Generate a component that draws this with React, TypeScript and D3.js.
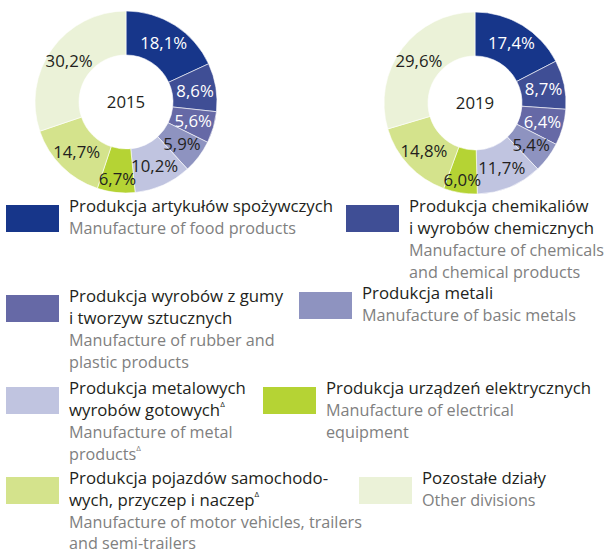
import React from "react";
import * as d3 from "d3";

const years = ["2015", "2019"];
const values2015 = [18.1, 8.6, 5.6, 5.9, 10.2, 6.7, 14.7, 30.2];
const values2019 = [17.4, 8.7, 6.4, 5.4, 11.7, 6.0, 14.8, 29.6];

const colors = ["#17368a", "#3f4e95", "#6669a6", "#8e93c0", "#c0c4e0", "#b5d334", "#d4e38c", "#ebf2d8"];
const labelColors = ["#fff", "#fff", "#fff", "#231f20", "#231f20", "#231f20", "#231f20", "#231f20"];

const polishLabels = [
  ["Produkcja artykułów spożywczych"],
  ["Produkcja chemikaliów", "i wyrobów chemicznych"],
  ["Produkcja wyrobów z gumy", "i tworzyw sztucznych"],
  ["Produkcja metali"],
  ["Produkcja metalowych", "wyrobów gotowychΔ"],
  ["Produkcja urządzeń elektrycznych"],
  ["Produkcja pojazdów samochodo-", "wych, przyczep i naczepΔ"],
  ["Pozostałe działy"],
];
const englishLabels = [
  ["Manufacture of food products"],
  ["Manufacture of chemicals", "and chemical products"],
  ["Manufacture of rubber and", "plastic products"],
  ["Manufacture of basic metals"],
  ["Manufacture of metal", "productsΔ"],
  ["Manufacture of electrical", "equipment"],
  ["Manufacture of motor vehicles, trailers", "and semi-trailers"],
  ["Other divisions"],
];

// legend swatch positions (layout)
const legendPos = [
  [6, 205], [346, 205],
  [6, 295], [299, 292],
  [6, 387], [263, 387],
  [6, 477], [359, 477],
];

const width = 610;
const height = 553;
const outerR = 91;
const innerR = 47;
const centers = [[126, 102], [475, 103]];
const font = "'Open Sans', sans-serif";
const fs = 16.8;
const fsEn = 16.2;

function Line({ text, x, y, fill, size }: { text: string; x: number; y: number; fill: string; size: number }) {
  const hasDelta = text.endsWith("Δ");
  const main = hasDelta ? text.slice(0, -1) : text;
  return (
    <text x={x} y={y} fill={fill} fontSize={size} fontFamily={font}>
      {main}
      {hasDelta && (
        <tspan fontSize={8} dy={-9}>Δ</tspan>
      )}
    </text>
  );
}

function Donut({ values, year, cx, cy }: { values: number[]; year: string; cx: number; cy: number }) {
  const pie = d3.pie<number>().sort(null).value((d) => d);
  const arcs = pie(values);
  const arc = d3.arc<d3.PieArcDatum<number>>().innerRadius(innerR).outerRadius(outerR);
  return (
    <g transform={`translate(${cx},${cy})`}>
      {arcs.map((a, i) => (
        <path key={i} d={arc(a) || ""} fill={colors[i]} stroke="#fff" strokeWidth={0.6} />
      ))}
      {arcs.map((a, i) => {
        const r = i === 5 ? 78 : 70;
        const [x, y] = d3.arc<d3.PieArcDatum<number>>().innerRadius(r).outerRadius(r).centroid(a);
        return (
          <text key={i} x={x} y={y} dy="0.35em" textAnchor="middle" fill={labelColors[i]} fontSize={fs} fontFamily={font}>
            {d3.format(".1f")(a.data).replace(".", ",")}%
          </text>
        );
      })}
      <text x={0} y={0} dy="0.35em" textAnchor="middle" fill="#231f20" fontSize={fs} fontFamily={font}>
        {year}
      </text>
    </g>
  );
}

export default function App() {
  const series = [values2015, values2019];
  return (
    <svg width={width} height={height} style={{ position: "absolute", left: 0, top: 0, background: "#fff" }}>
      {series.map((vals, k) => (
        <Donut key={k} values={vals} year={years[k]} cx={centers[k][0]} cy={centers[k][1]} />
      ))}
      {polishLabels.map((pl, i) => {
        const [sx, sy] = legendPos[i];
        const tx = sx + 63;
        const base = sy + 7;
        return (
          <g key={i}>
            <rect x={sx} y={sy} width={53} height={27} fill={colors[i]} />
            {pl.map((t, j) => (
              <Line key={"p" + j} text={t} x={tx} y={base + j * 22} fill="#231f20" size={fs} />
            ))}
            {englishLabels[i].map((t, j) => (
              <Line key={"e" + j} text={t} x={tx} y={Math.min(base + (pl.length + j) * 22, 549)} fill="#808080" size={fsEn} />
            ))}
          </g>
        );
      })}
    </svg>
  );
}
